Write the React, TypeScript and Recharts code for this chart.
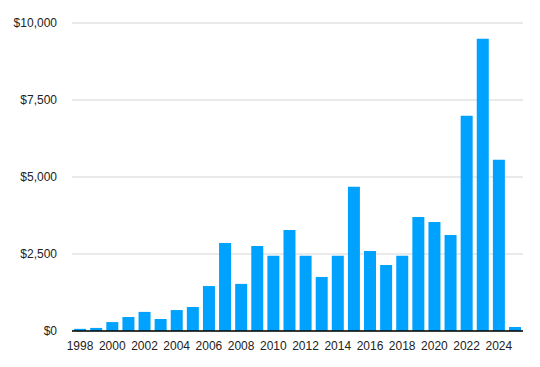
import { BarChart, Bar, XAxis, YAxis, CartesianGrid } from 'recharts';

// yearly totals
const years = [
  '1998', '1999', '2000', '2001', '2002', '2003', '2004', '2005', '2006', '2007',
  '2008', '2009', '2010', '2011', '2012', '2013', '2014', '2015', '2016', '2017',
  '2018', '2019', '2020', '2021', '2022', '2023', '2024', '2025',
];
const amounts = [
  70, 100, 290, 455, 620, 390, 680, 780, 1460, 2860,
  1530, 2760, 2440, 3280, 2440, 1755, 2440, 4680, 2600, 2145,
  2440, 3705, 3540, 3120, 6990, 9490, 5560, 130,
];
const yTicks = [0, 2500, 5000, 7500, 10000];

const data = years.map((year, i) => ({ year, amount: amounts[i] }));

const fmt = (v: number) => `$${v.toLocaleString('en-US')}`;

export default function App() {
  return (
    <div style={{ position: 'absolute', left: 0, top: 0, fontFamily: '"Liberation Sans", Arial, sans-serif' }}>
      <BarChart
        width={540}
        height={367}
        data={data}
        margin={{ top: 23, right: 17, bottom: 6, left: 0 }}
        barCategoryGap="13%"
      >
        <CartesianGrid vertical={false} stroke="#d4d4d4" />
        <XAxis
          dataKey="year"
          interval={1}
          tickLine={false}
          tickMargin={4}
          height={30}
          axisLine={{ stroke: '#000', strokeWidth: 1.5 }}
          tick={{ fill: '#222', fontSize: 12 }}
        />
        <YAxis
          domain={[0, 10000]}
          ticks={yTicks}
          tickFormatter={fmt}
          axisLine={false}
          tickLine={false}
          tickMargin={9}
          width={72}
          tick={{ fill: '#222', fontSize: 12 }}
        />
        <Bar dataKey="amount" fill="#00A2FF" isAnimationActive={false} />
      </BarChart>
    </div>
  );
}
